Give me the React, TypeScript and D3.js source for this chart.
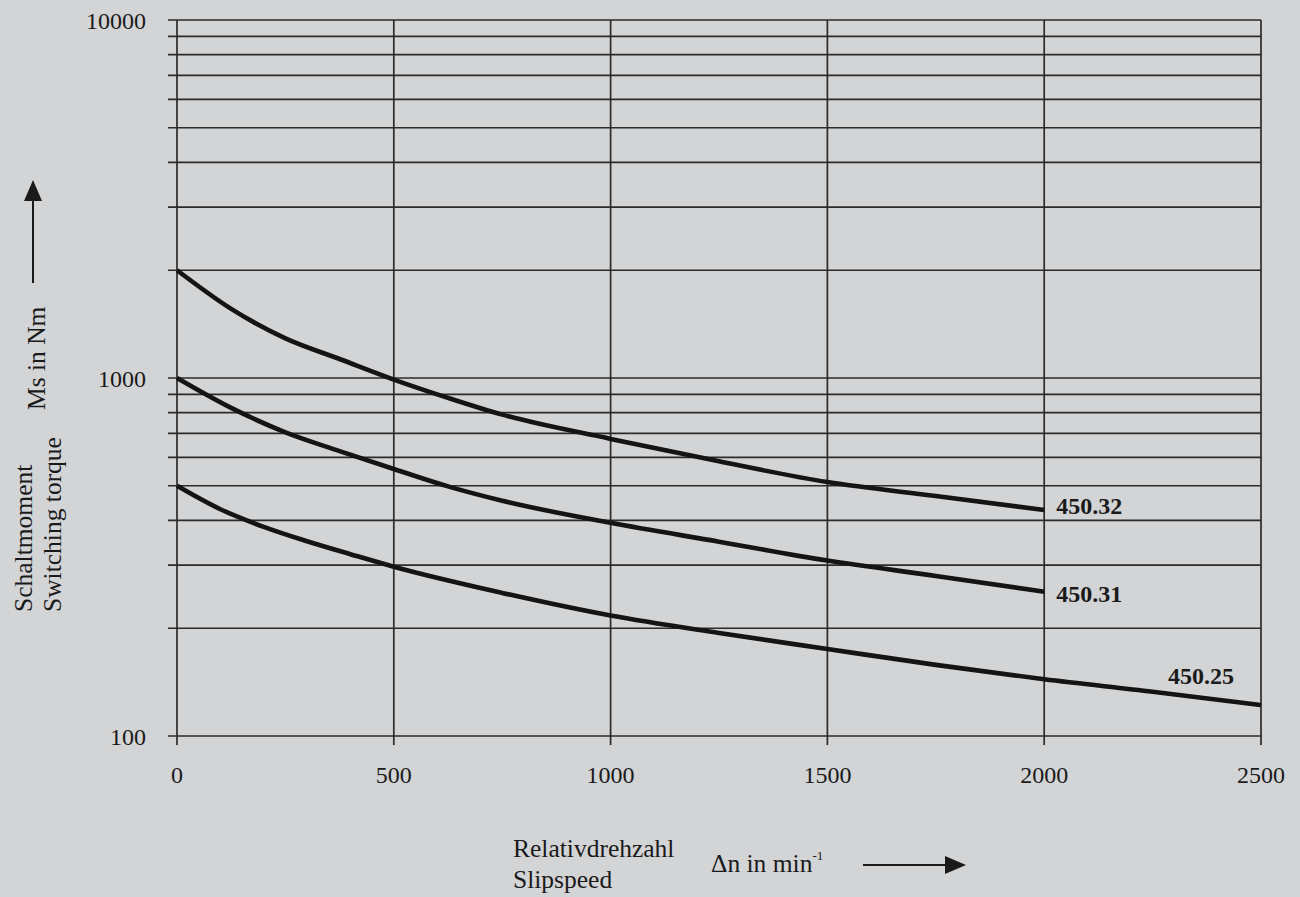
import React from "react";
import * as d3 from "d3";

const xTicks = [0, 500, 1000, 1500, 2000, 2500];
const yLabelTicks = [100, 1000, 10000];
const yGridTicks = [
  100, 200, 300, 400, 500, 600, 700, 800, 900, 1000, 2000, 3000, 4000, 5000, 6000, 7000, 8000, 9000, 10000,
];

const speedA = [0, 125, 250, 375, 500, 625, 750, 1000, 1250, 1500, 1750, 2000];
const torque45032 = [2000, 1560, 1290, 1130, 990, 880, 790, 676, 585, 512, 468, 428];
const torque45031 = [1000, 825, 705, 625, 557, 498, 454, 394, 349, 309, 280, 253];
const speedB = [0, 100, 200, 300, 400, 500, 750, 1000, 1250, 1500, 1750, 2000, 2250, 2500];
const torque45025 = [500, 430, 384, 350, 322, 297, 251, 217, 194, 175, 158, 144, 133, 122];

const seriesNames = ["450.32", "450.31", "450.25"];

const W = 1300;
const H = 897;
const FONT = "'Liberation Serif', 'DejaVu Serif', serif";

export default function App() {
  const x = d3.scaleLinear().domain([0, 2500]).range([177, 1261]);
  const y = d3.scaleLog().domain([100, 10000]).range([736, 20]);
  const line = d3
    .line<[number, number]>()
    .x((d) => x(d[0]))
    .y((d) => y(d[1]))
    .curve(d3.curveMonotoneX);

  const series = [
    { name: seriesNames[0], xs: speedA, ys: torque45032, dx: 12, dy: 4 },
    { name: seriesNames[1], xs: speedA, ys: torque45031, dx: 12, dy: 10 },
    { name: seriesNames[2], xs: speedB, ys: torque45025, dx: -93, dy: -21 },
  ];

  const gridColor = "#2b2b2b";
  const bg = "#d3d4d6";

  return (
    <svg
      width={W}
      height={H}
      style={{ position: "absolute", left: 0, top: 0, background: bg }}
      fontFamily={FONT}
    >
      <rect x={0} y={0} width={W} height={H} fill={bg} />
      {yGridTicks.map((t) => (
        <line
          key={"h" + t}
          x1={168}
          x2={x(2500)}
          y1={y(t)}
          y2={y(t)}
          stroke={gridColor}
          strokeWidth={1.7}
        />
      ))}
      {xTicks.map((t) => (
        <line
          key={"v" + t}
          x1={x(t)}
          x2={x(t)}
          y1={y(10000)}
          y2={y(100) + 9}
          stroke={gridColor}
          strokeWidth={1.7}
        />
      ))}
      {yLabelTicks.map((t) => (
        <text key={"yl" + t} x={146} y={y(t) + 8.5} fontSize={24} textAnchor="end" fill="#1a1a1a">
          {t}
        </text>
      ))}
      {xTicks.map((t) => (
        <text key={"xl" + t} x={x(t)} y={783} fontSize={24} textAnchor="middle" fill="#1a1a1a">
          {t}
        </text>
      ))}
      {series.map((s) => {
        const pts: [number, number][] = s.xs.map((v, i) => [v, s.ys[i]]);
        const last = pts[pts.length - 1];
        return (
          <g key={s.name}>
            <path d={line(pts) || ""} fill="none" stroke="#141414" strokeWidth={4.6} strokeLinejoin="round" />
            <text
              x={x(last[0]) + s.dx}
              y={y(last[1]) + s.dy}
              fontSize={24}
              fontWeight="bold"
              fill="#1a1a1a"
            >
              {s.name}
            </text>
          </g>
        );
      })}
      <g fill="#1a1a1a" fontSize={25.5}>
        <text transform="translate(32,612) rotate(-90)">Schaltmoment</text>
        <text transform="translate(61,612) rotate(-90)">Switching torque</text>
        <text transform="translate(45,410) rotate(-90)">Ms in Nm</text>
      </g>
      <line x1={33} x2={33} y1={283} y2={198} stroke="#1a1a1a" strokeWidth={2} />
      <path d="M33,180 L24,201 L42,201 Z" fill="#1a1a1a" />
      <g fill="#1a1a1a" fontSize={25.5}>
        <text x={513} y={857}>Relativdrehzahl</text>
        <text x={513} y={888}>Slipspeed</text>
        <text x={711} y={872}>
          Δn in min
          <tspan fontSize={13} dy={-12}>-1</tspan>
        </text>
      </g>
      <line x1={863} x2={947} y1={865} y2={865} stroke="#1a1a1a" strokeWidth={2} />
      <path d="M966,865 L945,856 L945,874 Z" fill="#1a1a1a" />
    </svg>
  );
}
